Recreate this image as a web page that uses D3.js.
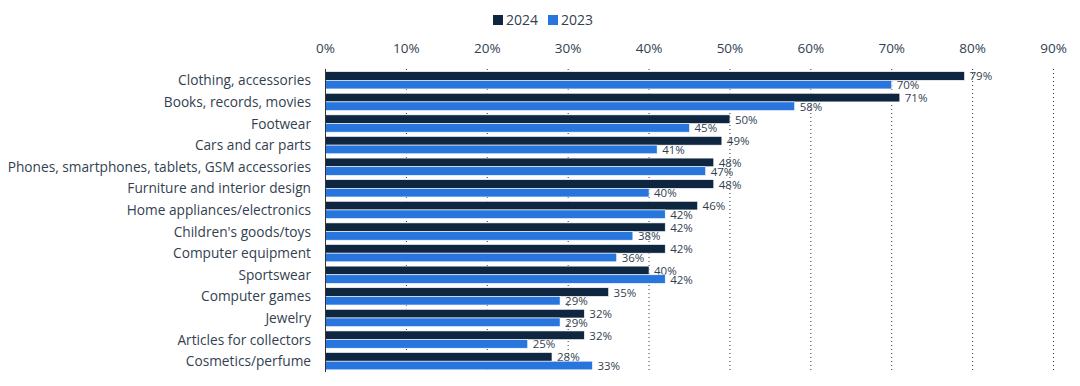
<!DOCTYPE html>
<html lang="en">
<head>
    <meta charset="UTF-8">
    <title>Online purchase categories 2023 vs 2024</title>
    <script src="https://d3js.org/d3.v7.min.js"></script>
    <style>
        body { margin: 0; background: #fff; font-family: "Open Sans", sans-serif; }
    </style>
</head>
<body>
    <svg id="chart" width="1080" height="386"></svg>
    <script>
        // categories and values (share of respondents, %)
        let categories = ["Clothing, accessories", "Books, records, movies", "Footwear", "Cars and car parts",
            "Phones, smartphones, tablets, GSM accessories", "Furniture and interior design",
            "Home appliances/electronics", "Children's goods/toys", "Computer equipment", "Sportswear",
            "Computer games", "Jewelry", "Articles for collectors", "Cosmetics/perfume"]
        let values2024 = [79, 71, 50, 49, 48, 48, 46, 42, 42, 40, 35, 32, 32, 28]
        let values2023 = [70, 58, 45, 41, 47, 40, 42, 38, 36, 42, 29, 29, 25, 33]
        let seriesNames = ["2024", "2023"]
        let tickValues = [0, 10, 20, 30, 40, 50, 60, 70, 80, 90]

        let colors = { "2024": "#0f2641", "2023": "#2876dd" }
        let textColor = "#333f50"
        let svg = d3.select("#chart")

        let x = d3.scaleLinear().domain([0, 90]).range([325.5, 1053.5])
        let y = d3.scaleBand().domain(categories).range([69.5, 372]).paddingInner(0.2).paddingOuter(0.1)
        let sub = d3.scaleBand().domain(seriesNames).range([0, y.bandwidth()])

        // dotted gridlines
        svg.append("g").selectAll("line")
            .data(tickValues.slice(1))
            .join("line")
            .attr("x1", d => x(d)).attr("x2", d => x(d))
            .attr("y1", 69).attr("y2", 372)
            .attr("stroke", "#333").attr("stroke-width", 1)
            .attr("stroke-dasharray", "1,3")

        // top axis labels
        svg.append("g").selectAll("text")
            .data(tickValues)
            .join("text")
            .attr("x", d => x(d)).attr("y", 53)
            .attr("text-anchor", "middle")
            .attr("font-size", 13.5).attr("fill", textColor)
            .text(d => d + "%")

        let rows = categories.map((c, i) => ({ cat: c, "2024": values2024[i], "2023": values2023[i] }))

        let groups = svg.append("g").selectAll("g")
            .data(rows)
            .join("g")
            .attr("transform", d => `translate(0,${y(d.cat)})`)

        seriesNames.forEach(s => {
            groups.append("rect")
                .attr("x", x(0))
                .attr("y", sub(s))
                .attr("width", d => x(d[s]) - x(0))
                .attr("height", sub.bandwidth())
                .attr("fill", colors[s])
                .attr("stroke", "#fff").attr("stroke-width", 0.6)

            groups.append("text")
                .attr("x", d => x(d[s]) + 5)
                .attr("y", sub(s) + sub.bandwidth() / 2 + 4.5)
                .attr("font-size", 11.5).attr("fill", textColor)
                .text(d => d[s] + "%")
        })

        // category labels
        svg.append("g").selectAll("text")
            .data(categories)
            .join("text")
            .attr("x", 311)
            .attr("y", d => y(d) + y.bandwidth() / 2 + 5)
            .attr("text-anchor", "end")
            .attr("font-size", 13.7).attr("fill", textColor)
            .text(d => d)

        // left axis line
        svg.append("line")
            .attr("x1", x(0)).attr("x2", x(0))
            .attr("y1", 69).attr("y2", 372)
            .attr("stroke", "#333").attr("stroke-width", 1)

        // legend
        let legend = svg.append("g")
        let lx = [493, 548]
        seriesNames.forEach((s, i) => {
            legend.append("rect")
                .attr("x", lx[i]).attr("y", 15)
                .attr("width", 10).attr("height", 10)
                .attr("fill", colors[s])
            legend.append("text")
                .attr("x", lx[i] + 13).attr("y", 25)
                .attr("font-size", 14).attr("fill", textColor)
                .text(s)
        })
    </script>
</body>
</html>
